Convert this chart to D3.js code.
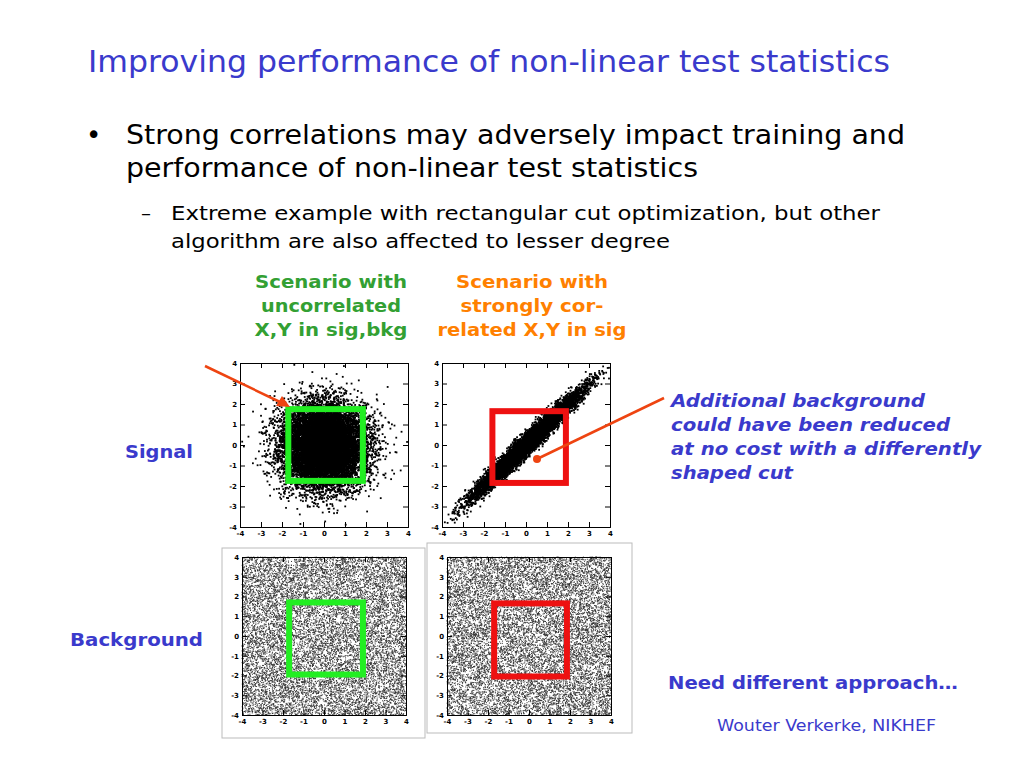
<!DOCTYPE html>
<html><head><meta charset="utf-8">
<script src="https://cdn.jsdelivr.net/npm/d3@7"></script>
<style>body{margin:0;background:#fff}svg{display:block}text{font-family:"DejaVu Sans",Verdana,sans-serif}</style>
</head><body><svg id="s" width="1024" height="768"></svg>
<script>
// distribution parameters
const panelNames = ["sigUncorr","sigCorr","bkgLeft","bkgRight"];
const sampleCounts = [12000, 9000, 13000, 13000];
const sigmaWidth = [1.0, 1.25];
const corrWidth = [0.13];
const axisTicks = [-4,-3,-2,-1,0,1,2,3,4];
const cutBoxes = [[-1.7,1.85,-1.75,1.75],[-1.6,1.9,-1.85,1.65],[-1.7,1.9,-1.95,1.7],[-1.7,1.85,-2.05,1.65]];
const boxColors = ["#22ee22","#ee1111","#22ee22","#ee1111"];

const svg = d3.select("#s");
const blue = "#3a3acc";
function T(x,y,size,txt,len,o={}){
  const t=svg.append("text").attr("x",x).attr("y",y).attr("font-size",size).attr("fill",o.fill||"#000").text(txt);
  if(o.bold)t.attr("font-weight","bold"); if(o.italic)t.attr("font-style","italic");
  if(o.anchor)t.attr("text-anchor",o.anchor);
  if(len)t.attr("textLength",len).attr("lengthAdjust","spacingAndGlyphs");
  return t;
}
T(88,72,30,"Improving performance of non-linear test statistics",802,{fill:blue});
T(86,144,26,"•");
T(126,144,26,"Strong correlations may adversely impact training and",779);
T(126,177,26,"performance of non-linear test statistics",572);
T(141,220,20,"–");
T(171,220,20,"Extreme example with rectangular cut optimization, but other",709);
T(171,248,20,"algorithm are also affected to lesser degree",499);
const gr={fill:"#33a033",bold:true,anchor:"middle"};
T(331,288,18,"Scenario with",152,gr);T(331,312,18,"uncorrelated",140,gr);T(331,336,18,"X,Y in sig,bkg",153,gr);
const or={fill:"#ff8000",bold:true,anchor:"middle"};
T(532,288,18,"Scenario with",152,or);T(532,312,18,"strongly cor-",143,or);T(532,336,18,"related X,Y in sig",189,or);
const bb={fill:blue,bold:true};
T(125,458,18,"Signal",68,bb);
T(70,646,18,"Background",133,bb);
const bi={fill:blue,bold:true,italic:true};
T(671,407,18,"Additional background",254,bi);
T(671,431,18,"could have been reduced",279,bi);
T(671,455,18,"at no cost with a differently",310,bi);
T(671,479,18,"shaped cut",122,bi);
T(668,689,18,"Need different approach…",290,bb);
T(717,731,15,"Wouter Verkerke, NIKHEF",219,{fill:blue});

svg.append("rect").attr("x",222).attr("y",548).attr("width",203).attr("height",190).attr("fill","#fff").attr("stroke","#bbb");
svg.append("rect").attr("x",427).attr("y",543).attr("width",205).attr("height",190).attr("fill","#fff").attr("stroke","#bbb");

const areas = [[240,408,363,527],[442,610,363,527],[242,406,557,715],[447,611,557,715]];
const rng = d3.randomLcg(0.4242);
const nrm = d3.randomNormal.source(rng)(0,1);
const uni = d3.randomUniform.source(rng)(-4,4);
function sample(k){
  const n=sampleCounts[k], out=[];
  for(let i=0;i<n;i++){
    if(k===0) out.push([nrm()*sigmaWidth[0], nrm()*sigmaWidth[0]]);
    else if(k===1){const u=nrm()*sigmaWidth[1], v=nrm()*corrWidth[0]; out.push([u+v,u-v]);}
    else out.push([uni(),uni()]);
  }
  return out.filter(p=>Math.abs(p[0])<4&&Math.abs(p[1])<4);
}
areas.forEach((a,k)=>{
  const x=d3.scaleLinear().domain([-4,4]).range([a[0],a[1]]);
  const y=d3.scaleLinear().domain([-4,4]).range([a[3],a[2]]);
  const g=svg.append("g");
  g.append("rect").attr("x",a[0]).attr("y",a[2]).attr("width",a[1]-a[0]).attr("height",a[3]-a[2]).attr("fill","#fff");
  const ps=k<2?1.8:1;
  g.append("g").selectAll("rect").data(sample(k)).join("rect").attr("x",d=>x(d[0])-ps/2).attr("y",d=>y(d[1])-ps/2).attr("width",ps).attr("height",ps).attr("fill",k<2?"#000":"#333");
  const fmt=d=>String(d);
  const ax=g.append("g").attr("transform",`translate(0,${a[3]})`).call(d3.axisBottom(x).tickValues(axisTicks).tickFormat(fmt).tickSize(-5));
  g.append("g").attr("transform",`translate(${a[0]},0)`).call(d3.axisLeft(y).tickValues(axisTicks).tickFormat(fmt).tickSize(-5));
  g.append("g").attr("transform",`translate(0,${a[2]})`).call(d3.axisTop(x).tickValues(axisTicks).tickFormat("").tickSize(-5));
  g.append("g").attr("transform",`translate(${a[1]},0)`).call(d3.axisRight(y).tickValues(axisTicks).tickFormat("").tickSize(-5));
  g.selectAll(".domain").attr("stroke","#000");
  g.selectAll("text").attr("font-size",7).attr("font-weight","bold").attr("font-family","Liberation Sans, Arial");
  ax.selectAll("text").attr("dy","0.9em");
  const b=cutBoxes[k];
  g.append("rect").attr("x",x(b[0])).attr("y",y(b[3])).attr("width",x(b[1])-x(b[0])).attr("height",y(b[2])-y(b[3])).attr("fill","none").attr("stroke",boxColors[k]).attr("stroke-width",6);
});
svg.append("line").attr("x1",205).attr("y1",366).attr("x2",280).attr("y2",402).attr("stroke","#ee4411").attr("stroke-width",2.5);
svg.append("path").attr("d","M290,407 L276,406 L282,396 Z").attr("fill","#ee4411");
svg.append("line").attr("x1",664).attr("y1",398).attr("x2",537).attr("y2",459).attr("stroke","#ee4411").attr("stroke-width",2.5);
svg.append("circle").attr("cx",537).attr("cy",459).attr("r",4).attr("fill","#ee4411");
</script></body></html>
